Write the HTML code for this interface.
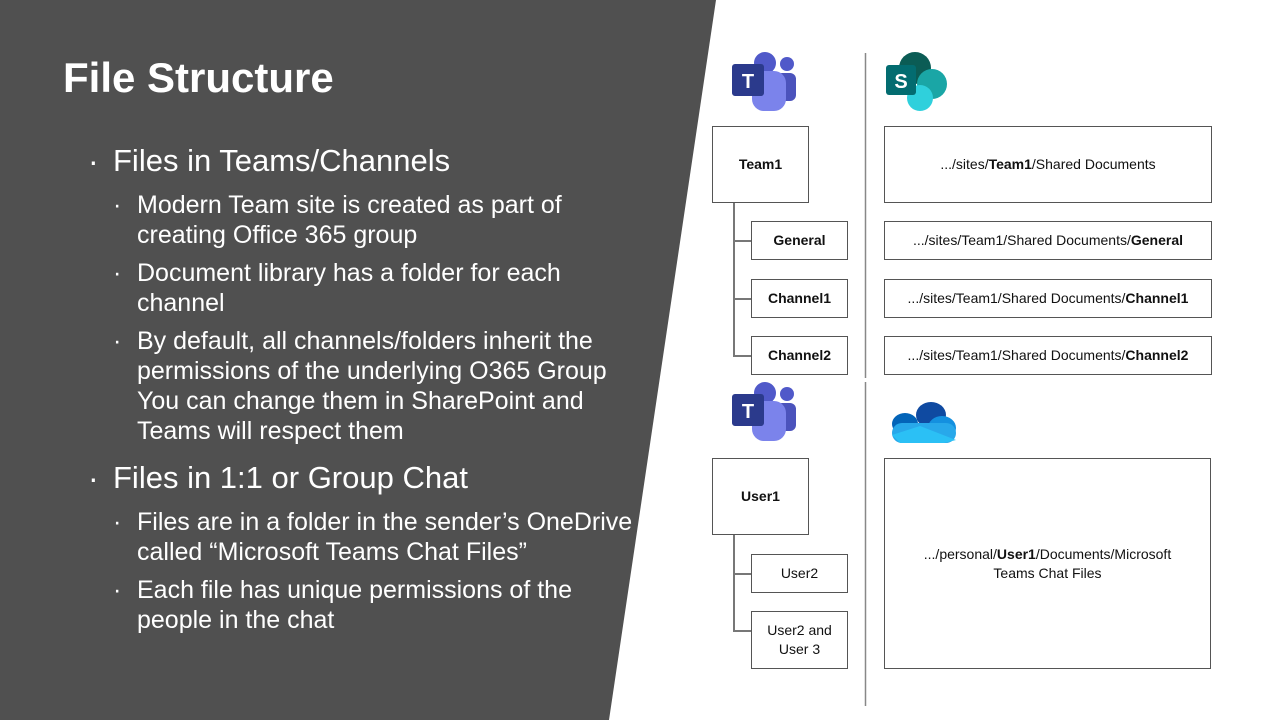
<!DOCTYPE html>
<html><head><style>
body{margin:0;width:1280px;height:720px;position:relative;overflow:hidden;background:#fff;font-family:"Liberation Sans",sans-serif}
.bg{position:absolute;left:0;top:0}
.t{position:absolute;color:#fff;white-space:nowrap}
.b{position:absolute;border:1.5px solid #555;background:#fff;box-sizing:border-box;display:flex;align-items:center;justify-content:center;text-align:center;font-size:14px;color:#111;line-height:19px}
.l{position:absolute;background:#777}
.sb{position:relative;padding-left:24px;white-space:nowrap}
.sb span.d{position:absolute;left:0}
</style></head><body>
<svg class="bg" width="1280" height="720"><polygon points="0,0 716,0 609,720 0,720" fill="#505050"/>
<line x1="865.5" y1="53" x2="865.5" y2="378" stroke="#888" stroke-width="1.5"/>
<line x1="865.5" y1="382" x2="865.5" y2="706" stroke="#888" stroke-width="1.5"/>
<g id="teams">
<circle cx="765" cy="63" r="11" fill="#5059c9"/><circle cx="787" cy="64" r="7" fill="#5059c9"/>
<rect x="776" y="73" width="20" height="28" rx="6" fill="#4b53bc"/>
<rect x="752" y="71" width="34" height="40" rx="12" fill="#7b83eb"/>
<rect x="732" y="64" width="32" height="32" rx="3" fill="#2b3a8c"/>
<text x="748" y="88" fill="#fff" font-size="20" font-weight="bold" text-anchor="middle" font-family="Liberation Sans">T</text>
</g>
<use href="#teams" y="330"/>
<circle cx="915" cy="68" r="16" fill="#0b5c55"/><circle cx="932" cy="84" r="15" fill="#1aa6a6"/><circle cx="920" cy="98" r="13" fill="#2fd0dc"/>
<rect x="886" y="65" width="30" height="30" rx="3" fill="#036c70"/>
<text x="901" y="88" fill="#fff" font-size="20" font-weight="bold" text-anchor="middle" font-family="Liberation Sans">S</text>
<ellipse cx="931" cy="415" rx="15" ry="13" fill="#0f4aa1"/><ellipse cx="905" cy="424" rx="13" ry="11" fill="#0364b8"/>
<ellipse cx="942" cy="428" rx="14" ry="12" fill="#1490df"/><rect x="892" y="423" width="64" height="20" rx="10" fill="#28a8ea"/>
<polygon points="892,435 920,426 956,440 944,443 900,443" fill="#2bc0f5"/>
</svg>
<div class="t" style="left:63px;top:54px;font-size:42px;font-weight:bold">File Structure</div>
<div class="t" style="left:88px;top:143px;font-size:32px">·</div>
<div class="t" style="left:113px;top:143px;font-size:31px">Files in Teams/Channels</div>
<div style="position:absolute;left:113px;top:190px;color:#fff;font-size:25px;line-height:30px">
<div class="sb" style="margin-bottom:8px"><span class="d">·</span>Modern Team site is created as part of<br>creating Office 365 group</div>
<div class="sb" style="margin-bottom:8px"><span class="d">·</span>Document library has a folder for each<br>channel</div>
<div class="sb"><span class="d">·</span>By default, all channels/folders inherit the<br>permissions of the underlying O365 Group<br>You can change them in SharePoint and<br>Teams will respect them</div>
</div>
<div class="t" style="left:88px;top:460px;font-size:32px">·</div>
<div class="t" style="left:113px;top:460px;font-size:31px">Files in 1:1 or Group Chat</div>
<div style="position:absolute;left:113px;top:507px;color:#fff;font-size:25px;line-height:30px">
<div class="sb" style="margin-bottom:8px"><span class="d">·</span>Files are in a folder in the sender’s OneDrive<br>called “Microsoft Teams Chat Files”</div>
<div class="sb"><span class="d">·</span>Each file has unique permissions of the<br>people in the chat</div>
</div>
<div class="l" style="left:733px;top:202px;width:1.5px;height:153px"></div>
<div class="l" style="left:733px;top:240px;width:18px;height:1.5px"></div>
<div class="l" style="left:733px;top:298px;width:18px;height:1.5px"></div>
<div class="l" style="left:733px;top:355px;width:18px;height:1.5px"></div>
<div class="l" style="left:733px;top:534px;width:1.5px;height:96px"></div>
<div class="l" style="left:733px;top:573px;width:18px;height:1.5px"></div>
<div class="l" style="left:733px;top:630px;width:18px;height:1.5px"></div>
<div class="b" style="left:712px;top:126px;width:97px;height:77px;font-weight:bold">Team1</div>
<div class="b" style="left:751px;top:221px;width:97px;height:39px;font-weight:bold">General</div>
<div class="b" style="left:751px;top:279px;width:97px;height:39px;font-weight:bold">Channel1</div>
<div class="b" style="left:751px;top:336px;width:97px;height:39px;font-weight:bold">Channel2</div>
<div class="b" style="left:884px;top:126px;width:328px;height:77px"><span>.../sites/<b>Team1</b>/Shared Documents</span></div>
<div class="b" style="left:884px;top:221px;width:328px;height:39px"><span>.../sites/Team1/Shared Documents/<b>General</b></span></div>
<div class="b" style="left:884px;top:279px;width:328px;height:39px"><span>.../sites/Team1/Shared Documents/<b>Channel1</b></span></div>
<div class="b" style="left:884px;top:336px;width:328px;height:39px"><span>.../sites/Team1/Shared Documents/<b>Channel2</b></span></div>
<div class="b" style="left:712px;top:458px;width:97px;height:77px;font-weight:bold">User1</div>
<div class="b" style="left:751px;top:554px;width:97px;height:39px">User2</div>
<div class="b" style="left:751px;top:611px;width:97px;height:58px"><span>User2 and<br>User 3</span></div>
<div class="b" style="left:884px;top:458px;width:327px;height:211px"><span>.../personal/<b>User1</b>/Documents/Microsoft<br>Teams Chat Files</span></div>
</body></html>
